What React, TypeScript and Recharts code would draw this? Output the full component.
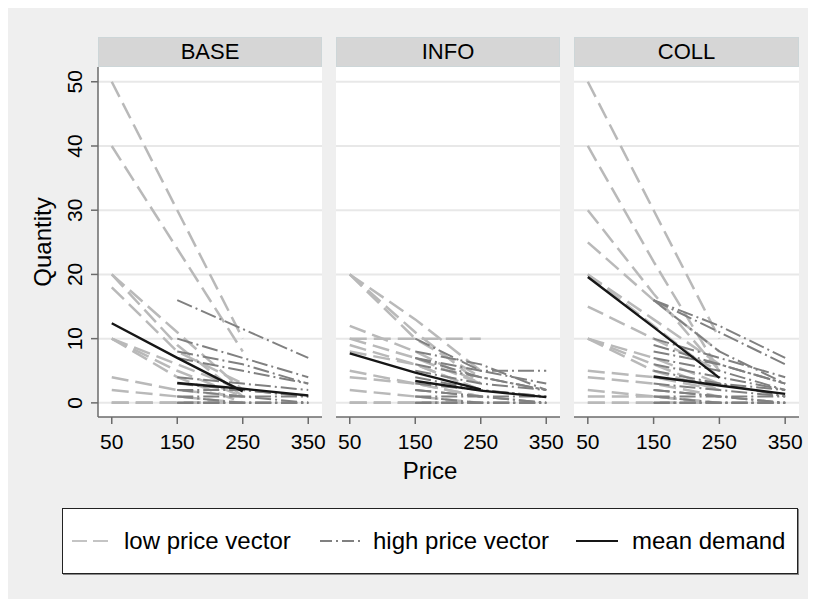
import React from "react";
import { LineChart, Line, XAxis, YAxis, CartesianGrid } from "recharts";

const FONT = '"Liberation Sans", Arial, Helvetica, sans-serif';

const PRICES_LOW = [50, 150, 250];
const PRICES_HIGH = [150, 250, 350];
const X_TICKS = [50, 150, 250, 350];
const Y_TICKS = [0, 10, 20, 30, 40, 50];

// quantities per subject (low vector at 50/150/250, high at 150/250/350)
const BASE_LOW = [
  [50, 30, 10], [40, 24, 8], [20, 11, 2], [20, 9, 1], [18, 8, 3], [10, 6, 2],
  [10, 5, 1], [10, 4, 0], [4, 2, 1], [2, 1, 0], [0, 0, 0], [0, 0, 0], [0, 0, 0],
];
const BASE_HIGH = [
  [16, 11.5, 7], [10, 7, 4], [8, 6, 3], [7, 5, 3], [4, 3, 2], [3, 2, 1], [2, 2, 1],
  [2, 1, 1], [1, 1, 0], [1, 0, 0], [0, 0, 0], [0, 0, 0], [0, 0, 0],
];
const BASE_MEAN_LOW = [12.4, 7.0, 1.8];
const BASE_MEAN_HIGH = [3.1, 2.2, 1.15];

const INFO_LOW = [
  [20, 13, 5], [20, 11, 3], [20, 10, 4], [12, 8, 3], [10, 10, 10], [10, 7, 3],
  [9, 6, 2], [8, 6, 2], [5, 3, 1], [4, 3, 1], [2, 1, 0], [0, 0, 0], [0, 0, 0], [0, 0, 0],
];
const INFO_HIGH = [
  [10, 5, 3], [8, 6, 2], [7, 5, 5], [7, 4, 2], [6, 4, 2], [5, 3, 2], [4, 2, 1], [3, 2, 1],
  [2, 1, 1], [2, 1, 0], [1, 1, 0], [1, 0, 0], [0, 0, 0], [0, 0, 0], [0, 0, 0],
];
const INFO_MEAN_LOW = [7.7, 4.7, 2.1];
const INFO_MEAN_HIGH = [3.4, 1.9, 0.9];

const COLL_LOW = [
  [50, 30, 10], [40, 22, 5], [30, 17, 5], [25, 16, 8], [20, 12, 4], [20, 13, 6],
  [15, 10, 5], [10, 7, 3], [10, 6, 2], [10, 5, 2], [5, 4, 2], [4, 3, 1], [2, 1, 0],
  [1, 1, 0], [0, 0, 0], [0, 0, 0],
];
const COLL_HIGH = [
  [16, 12, 7], [16, 11, 6], [16, 8, 3], [10, 7, 4], [9, 6, 3], [8, 6, 3], [7, 5, 2],
  [6, 4, 2], [5, 3, 2], [4, 3, 1], [3, 2, 1], [2, 1, 1], [2, 1, 0], [1, 1, 0], [1, 0, 0],
  [0, 0, 0], [0, 0, 0], [0, 0, 0],
];
const COLL_MEAN_LOW = [19.6, 11.8, 3.9];
const COLL_MEAN_HIGH = [4.1, 2.7, 1.4];

const LOW_STYLE = { stroke: "#b9b9b9", strokeWidth: 2.5, strokeDasharray: "17 7" };
const HIGH_STYLE = { stroke: "#808080", strokeWidth: 2, strokeDasharray: "16 4 2 4" };
const MEAN_STYLE = { stroke: "#161616", strokeWidth: 2.4 };

const pts = (prices: number[], qs: number[]) => qs.map((q, i) => ({ p: prices[i], q }));

function YTick({ x, y, payload }: any) {
  return (
    <text x={x} y={y} transform={`rotate(-90 ${x} ${y})`} textAnchor="middle"
      fontSize={21} fontFamily={FONT} fill="#000">{payload.value}</text>
  );
}

function Panel({ title, low, high, meanLow, meanHigh, left, width, showY }: any) {
  const yw = showY ? 90 : 0;
  const pad = 22;
  return (
    <>
      <div style={{
        position: "absolute", left: left + yw, top: 29, width: width, height: 30,
        background: "#d6d6d6", boxSizing: "border-box", border: "1px solid #cdd6d8",
        display: "flex", alignItems: "center", justifyContent: "center",
        fontFamily: FONT, fontSize: 22, color: "#000",
      }}>{title}</div>
      <div style={{ position: "absolute", left: left, top: 59 }}>
        <LineChart width={width + yw + pad} height={420} margin={{ top: 0, right: pad, bottom: 0, left: 0 }}>
          <CartesianGrid vertical={false} stroke="#e8e8e8" strokeWidth={2} fill="#ffffff"
            horizontalValues={Y_TICKS} />
          <XAxis type="number" dataKey="p" domain={[29, 371]} ticks={X_TICKS} allowDataOverflow
            height={70} tickSize={7} tickMargin={10} interval={0}
            axisLine={{ stroke: "#6b6b6b", strokeWidth: 1.5 }}
            tickLine={{ stroke: "#6b6b6b", strokeWidth: 1.5 }}
            tick={{ fontSize: 21, fontFamily: FONT, fill: "#000" }} />
          <YAxis type="number" dataKey="q" domain={[-2.2, 52.3]} ticks={Y_TICKS} allowDataOverflow
            hide={!showY} width={yw} tickSize={7} tickMargin={9} interval={0}
            axisLine={{ stroke: "#6b6b6b", strokeWidth: 1.5 }}
            tickLine={{ stroke: "#6b6b6b", strokeWidth: 1.5 }}
            tick={<YTick />} />
          {low.map((qs: number[], i: number) => (
            <Line key={"l" + i} data={pts(PRICES_LOW, qs)} dataKey="q" {...LOW_STYLE}
              dot={false} activeDot={false} isAnimationActive={false} />
          ))}
          {high.map((qs: number[], i: number) => (
            <Line key={"h" + i} data={pts(PRICES_HIGH, qs)} dataKey="q" {...HIGH_STYLE}
              dot={false} activeDot={false} isAnimationActive={false} />
          ))}
          <Line data={pts(PRICES_LOW, meanLow)} dataKey="q" {...MEAN_STYLE}
            dot={false} activeDot={false} isAnimationActive={false} />
          <Line data={pts(PRICES_HIGH, meanHigh)} dataKey="q" {...MEAN_STYLE}
            dot={false} activeDot={false} isAnimationActive={false} />
        </LineChart>
      </div>
    </>
  );
}

function Sample({ style }: any) {
  return (
    <svg width={42} height={10} style={{ display: "block" }}>
      <line x1={0} y1={5} x2={42} y2={5} {...style} />
    </svg>
  );
}

export default function App() {
  const item = (l: number) => ({ position: "absolute" as const, left: l, top: 0, height: "100%", display: "flex", alignItems: "center" });
  return (
    <div style={{ position: "relative", width: 808, height: 591, background: "#efefef", fontFamily: FONT }}>
      <Panel title="BASE" low={BASE_LOW} high={BASE_HIGH} meanLow={BASE_MEAN_LOW} meanHigh={BASE_MEAN_HIGH}
        left={0} width={224} showY />
      <Panel title="INFO" low={INFO_LOW} high={INFO_HIGH} meanLow={INFO_MEAN_LOW} meanHigh={INFO_MEAN_HIGH}
        left={328} width={224} />
      <Panel title="COLL" low={COLL_LOW} high={COLL_HIGH} meanLow={COLL_MEAN_LOW} meanHigh={COLL_MEAN_HIGH}
        left={566} width={225} />
      <svg width={808} height={591} style={{ position: "absolute", left: 0, top: 0, pointerEvents: "none" }}>
        <text x={34} y={234} transform="rotate(-90 34 234)" textAnchor="middle" dominantBaseline="central"
          fontSize={24} fontFamily={FONT} fill="#000">Quantity</text>
        <text x={422} y={462} textAnchor="middle" dominantBaseline="central"
          fontSize={24} fontFamily={FONT} fill="#000">Price</text>
      </svg>
      <div style={{
        position: "absolute", left: 54, top: 500, width: 736, height: 66, boxSizing: "border-box",
        background: "#fff", border: "1.5px solid #222", boxShadow: "1px 1px 0 #888",
        fontSize: 24, color: "#000",
      }}>
        <div style={item(9)}><Sample style={{ stroke: "#c4c4c4", strokeWidth: 2, strokeDasharray: "15 6" }} /></div>
        <div style={item(61)}>low price vector</div>
        <div style={item(257)}><Sample style={{ stroke: "#808080", strokeWidth: 2, strokeDasharray: "12 4 2 4" }} /></div>
        <div style={item(310)}>high price vector</div>
        <div style={item(513)}><Sample style={{ stroke: "#161616", strokeWidth: 2 }} /></div>
        <div style={item(569)}>mean demand</div>
      </div>
    </div>
  );
}
